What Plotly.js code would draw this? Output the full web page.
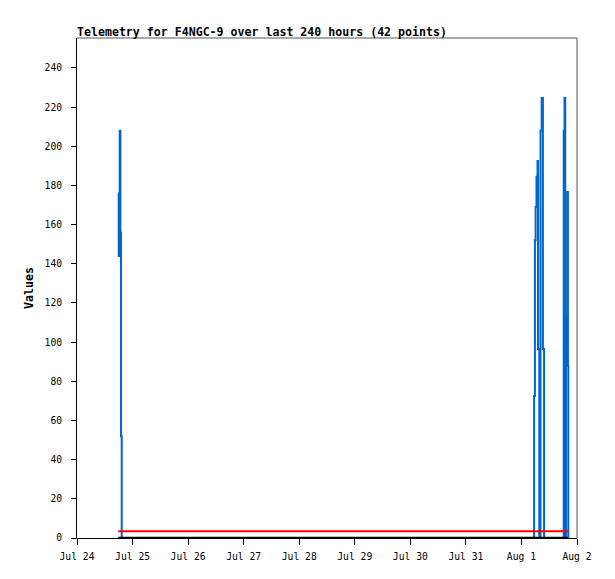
<!DOCTYPE html>
<html>
<head>
<meta charset="utf-8">
<script src="https://cdn.plot.ly/plotly-3.0.1.min.js"></script>
<style>
  html, body { margin: 0; padding: 0; background: #fff; }
  #chart { width: 615px; height: 579px; }
</style>
</head>
<body>
<div id="chart"></div>
<script>
  // telemetry samples
  const sampleTimes = [
    '2023-07-24 17:48', '2023-07-24 18:01', '2023-07-24 18:27', '2023-07-24 18:45',
    '2023-07-24 19:01', '2023-07-24 19:19',
    '2023-08-01 05:18', '2023-08-01 05:28', '2023-08-01 05:49', '2023-08-01 06:07',
    '2023-08-01 06:30', '2023-08-01 06:56', '2023-08-01 07:09', '2023-08-01 07:35',
    '2023-08-01 07:42', '2023-08-01 08:14', '2023-08-01 08:45', '2023-08-01 09:16',
    '2023-08-01 09:37', '2023-08-01 09:47',
    '2023-08-01 18:02', '2023-08-01 18:16', '2023-08-01 18:37', '2023-08-01 18:55',
    '2023-08-01 19:15', '2023-08-01 19:28', '2023-08-01 19:49', '2023-08-01 20:05',
    '2023-08-01 20:15'
  ];
  const sampleValues = [
    176, 144, 208, 156, 52, 0,
    0, 72.5, 152, 169, 184.5, 192.5, 96.5, 96.5,
    0, 208, 224.7, 96.5, 96.5, 0,
    0, 208, 224.7, 0, 112, 88, 176.7, 88, 0
  ];
  const refTimes = ['2023-07-24 17:48', '2023-08-01 20:15'];
  const refValues = [3.5, 3.5];
  const zeroTimes = ['2023-07-24 17:48', '2023-08-01 20:05'];
  const zeroValues = [0, 0];
  const yTicks = [0, 20, 40, 60, 80, 100, 120, 140, 160, 180, 200, 220, 240];

  const MONO = '"DejaVu Sans Mono", "Liberation Mono", monospace';

  const traces = [
    { type: 'scatter', mode: 'lines', x: sampleTimes, y: sampleValues,
      line: { color: '#0066cc', width: 2, shape: 'hv' }, hoverinfo: 'skip' },
    { type: 'scatter', mode: 'lines', x: refTimes, y: refValues,
      line: { color: '#ff0000', width: 2 }, hoverinfo: 'skip' },
    { type: 'scatter', mode: 'lines', x: zeroTimes, y: zeroValues,
      line: { color: '#000000', width: 2.5 }, hoverinfo: 'skip' },
  ];

  const layout = {
    width: 615, height: 579,
    paper_bgcolor: '#ffffff', plot_bgcolor: '#ffffff',
    margin: { l: 77, r: 38, t: 38, b: 41 },
    showlegend: false,
    font: { family: MONO, size: 10, color: '#000' },
    title: {
      text: '<b>Telemetry for F4NGC-9 over last 240 hours (42 points)</b>',
      font: { family: MONO, size: 11.6, color: '#000' },
      xref: 'paper', x: 0, xanchor: 'left',
      yref: 'container', y: 1 - 31.5 / 579, yanchor: 'middle',
    },
    xaxis: {
      type: 'date',
      range: ['2023-07-24 00:00', '2023-08-02 00:00'],
      tick0: '2023-07-24', dtick: 86400000, tickformat: '%b %-d',
      showgrid: false, zeroline: false,
      showline: true, linecolor: '#000', linewidth: 1,
      ticks: 'outside', ticklen: 6, tickcolor: '#000', tickwidth: 1,
      ticklabelstandoff: 3,
      tickfont: { family: MONO, size: 9.7, color: '#000' },
      fixedrange: true,
    },
    yaxis: {
      range: [0, 255.3],
      tickvals: yTicks,
      showgrid: false, zeroline: false,
      showline: true, linecolor: '#000', linewidth: 1,
      ticks: 'outside', ticklen: 5, tickcolor: '#000', tickwidth: 1,
      ticklabelstandoff: 7,
      tickfont: { family: MONO, size: 9.7, color: '#000' },
      title: { text: '<b>Values</b>', font: { family: MONO, size: 11.6, color: '#000' }, standoff: 8 },
      fixedrange: true,
    },
    shapes: [
      { type: 'line', xref: 'paper', yref: 'paper', x0: 0, x1: 1, y0: 1, y1: 1,
        line: { color: '#555555', width: 1 } },
      { type: 'line', xref: 'paper', yref: 'paper', x0: 1, x1: 1, y0: 0, y1: 1,
        line: { color: '#555555', width: 1 } },
    ],
  };

  Plotly.newPlot('chart', traces, layout, { displayModeBar: false, staticPlot: true });
</script>
</body>
</html>
